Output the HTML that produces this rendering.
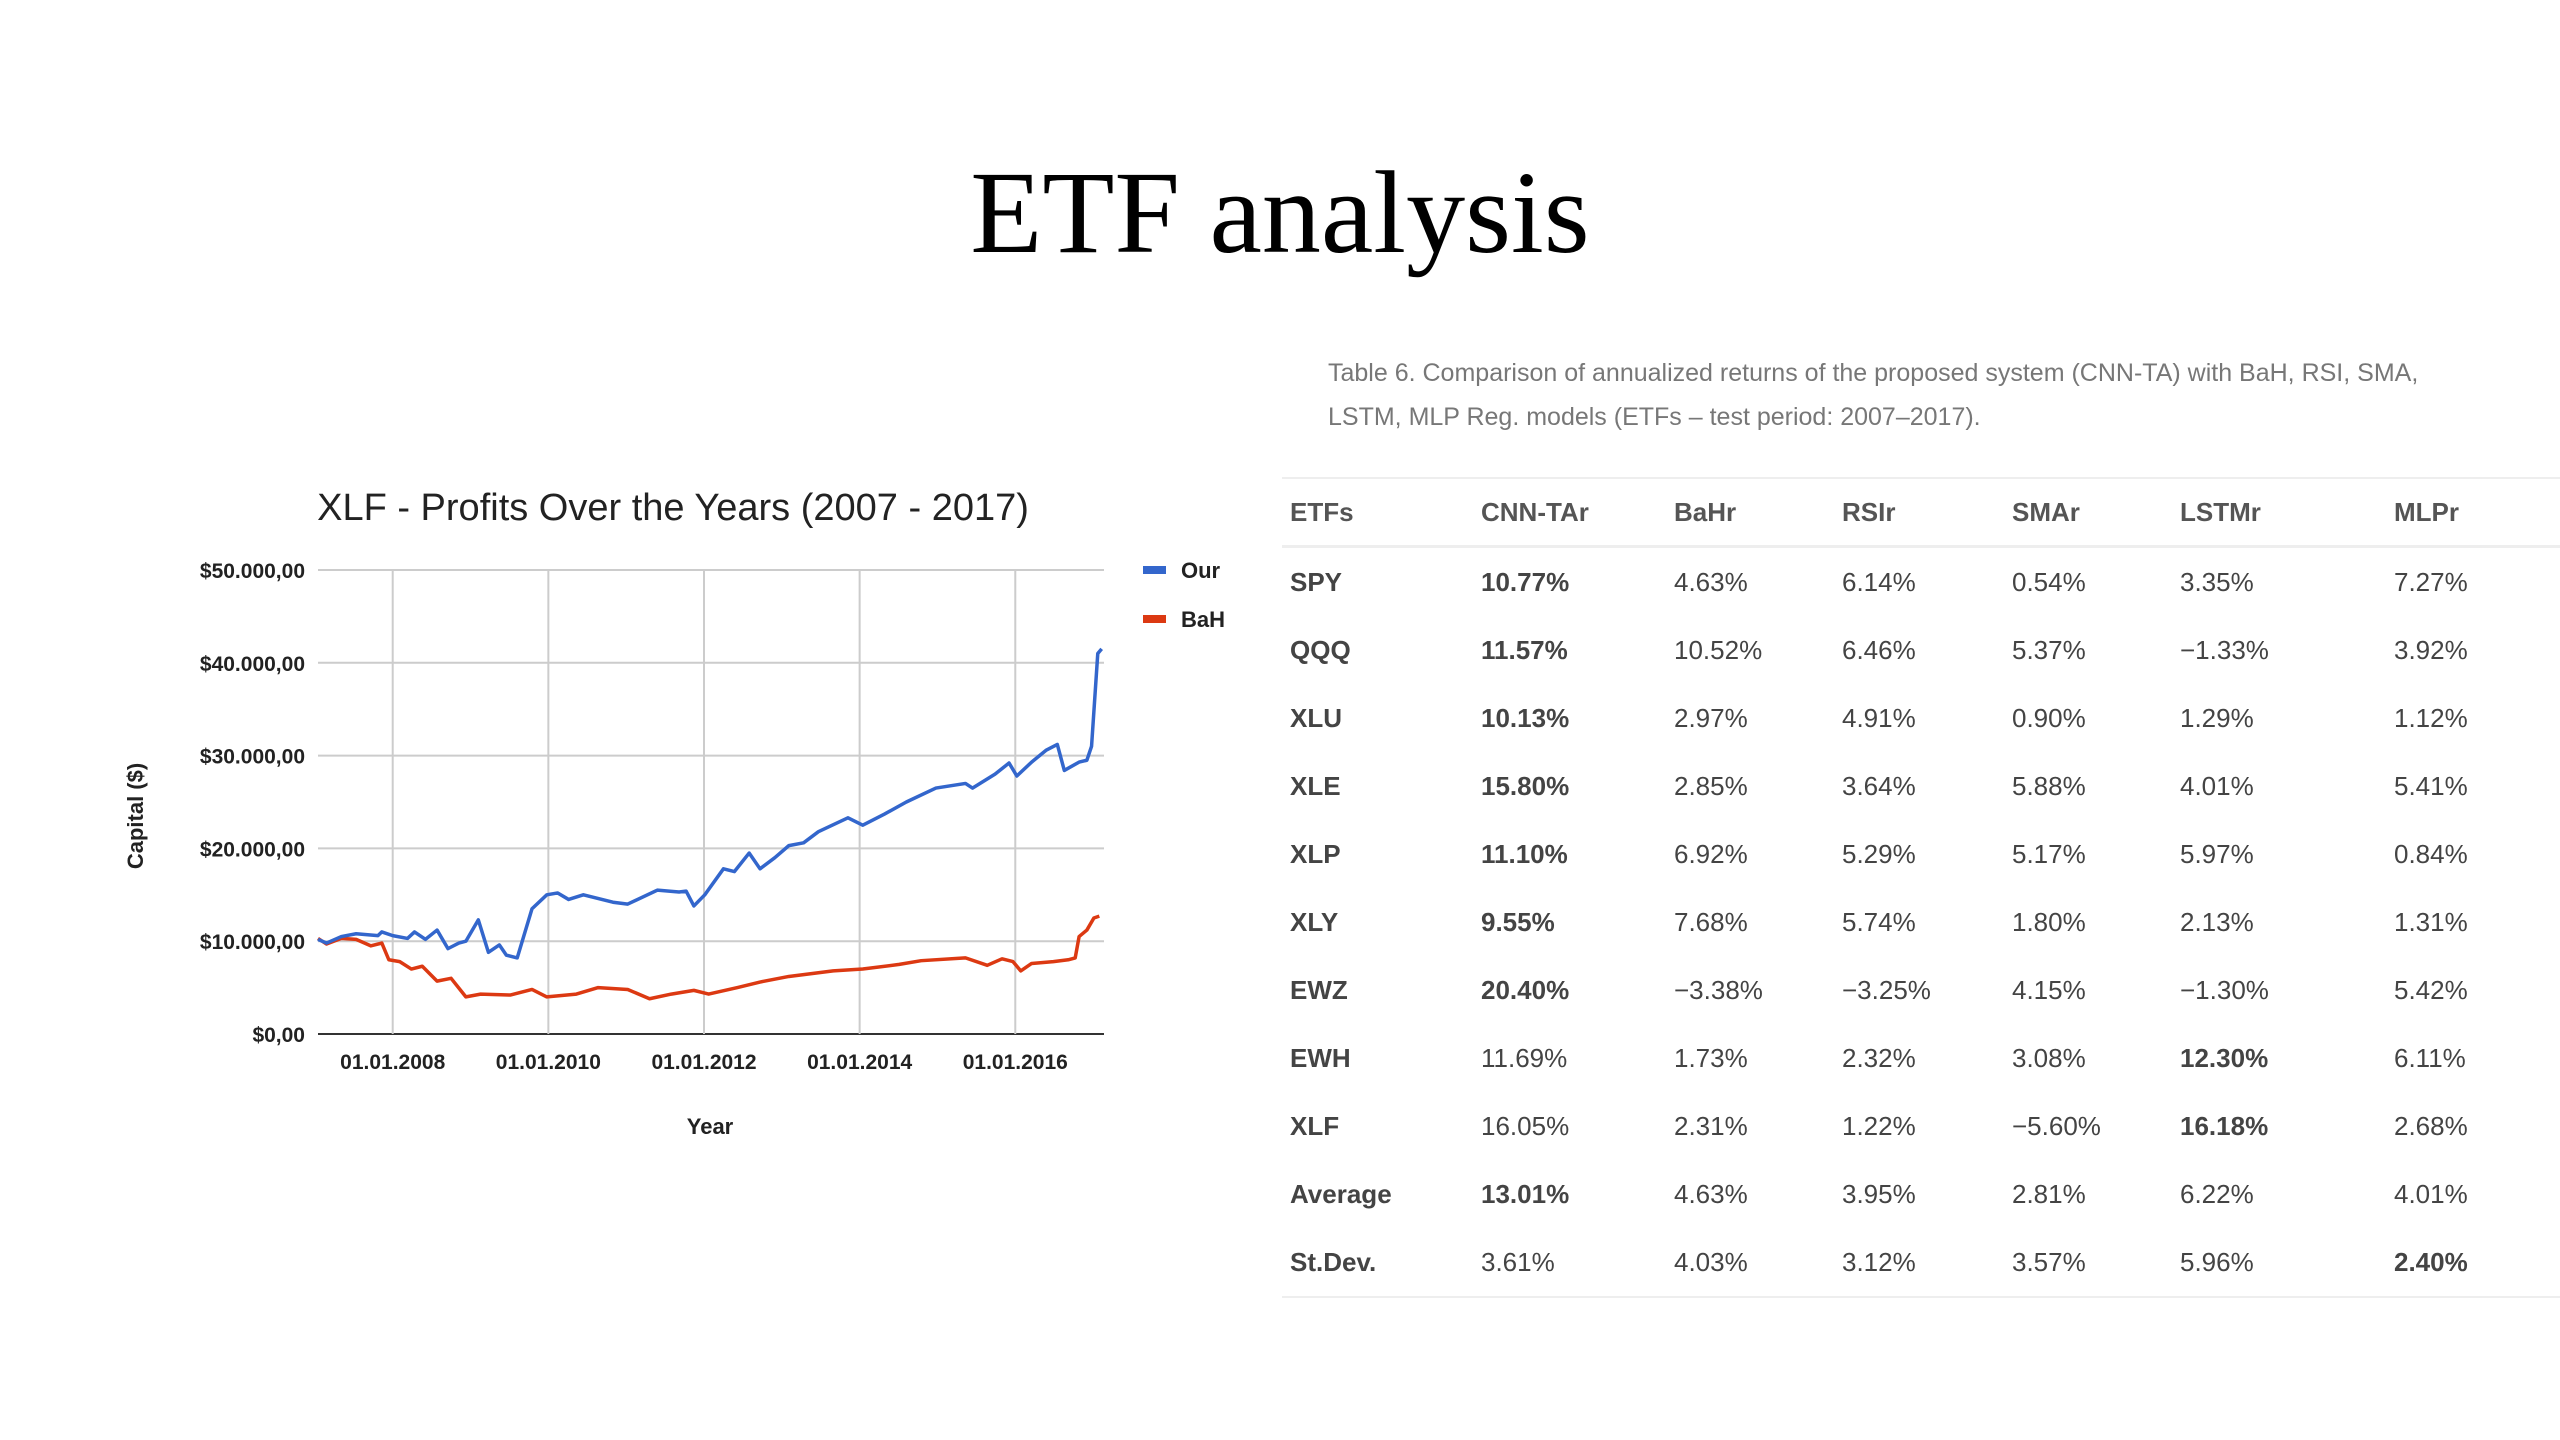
<!DOCTYPE html>
<html><head><meta charset="utf-8"><style>
body{margin:0;width:2560px;height:1440px;background:#fff;position:relative;overflow:hidden;font-family:"Liberation Sans",sans-serif}
#title{position:absolute;left:0;width:2560px;top:143px;text-align:center;font-family:"Liberation Serif",serif;font-size:118px;color:#000;line-height:140px}
#cap{position:absolute;left:1328px;top:351px;font-size:25px;color:#777;line-height:44px}
table{position:absolute;left:1282px;top:477px;width:1278px;border-collapse:collapse;border-top:2px solid #eee;border-bottom:2px solid #eee;color:#444;font-size:26px}
td,th{padding:0;height:68px;text-align:left;font-weight:normal}
th{height:66px;border-bottom:3px solid #eee;font-weight:bold;color:#555}
td:first-child,th:first-child{padding-left:8px;font-weight:bold}
b{font-weight:bold}
#chart{position:absolute;left:0;top:0}
</style></head><body>
<div id="title">ETF analysis</div>
<div id="cap">Table 6. Comparison of annualized returns of the proposed system (CNN-TA) with BaH, RSI, SMA,<br>LSTM, MLP Reg. models (ETFs – test period: 2007–2017).</div>
<table>
<colgroup><col style="width:199px"><col style="width:193px"><col style="width:168px"><col style="width:170px"><col style="width:168px"><col style="width:214px"><col></colgroup>
<tr><th>ETFs</th><th>CNN-TAr</th><th>BaHr</th><th>RSIr</th><th>SMAr</th><th>LSTMr</th><th>MLPr</th></tr>
<tr><td>SPY</td><td><b>10.77%</b></td><td>4.63%</td><td>6.14%</td><td>0.54%</td><td>3.35%</td><td>7.27%</td></tr>
<tr><td>QQQ</td><td><b>11.57%</b></td><td>10.52%</td><td>6.46%</td><td>5.37%</td><td>−1.33%</td><td>3.92%</td></tr>
<tr><td>XLU</td><td><b>10.13%</b></td><td>2.97%</td><td>4.91%</td><td>0.90%</td><td>1.29%</td><td>1.12%</td></tr>
<tr><td>XLE</td><td><b>15.80%</b></td><td>2.85%</td><td>3.64%</td><td>5.88%</td><td>4.01%</td><td>5.41%</td></tr>
<tr><td>XLP</td><td><b>11.10%</b></td><td>6.92%</td><td>5.29%</td><td>5.17%</td><td>5.97%</td><td>0.84%</td></tr>
<tr><td>XLY</td><td><b>9.55%</b></td><td>7.68%</td><td>5.74%</td><td>1.80%</td><td>2.13%</td><td>1.31%</td></tr>
<tr><td>EWZ</td><td><b>20.40%</b></td><td>−3.38%</td><td>−3.25%</td><td>4.15%</td><td>−1.30%</td><td>5.42%</td></tr>
<tr><td>EWH</td><td>11.69%</td><td>1.73%</td><td>2.32%</td><td>3.08%</td><td><b>12.30%</b></td><td>6.11%</td></tr>
<tr><td>XLF</td><td>16.05%</td><td>2.31%</td><td>1.22%</td><td>−5.60%</td><td><b>16.18%</b></td><td>2.68%</td></tr>
<tr><td>Average</td><td><b>13.01%</b></td><td>4.63%</td><td>3.95%</td><td>2.81%</td><td>6.22%</td><td>4.01%</td></tr>
<tr><td>St.Dev.</td><td>3.61%</td><td>4.03%</td><td>3.12%</td><td>3.57%</td><td>5.96%</td><td><b>2.40%</b></td></tr>
</table>
<svg id="chart" width="1260" height="1200"></svg>
<script>
const ourYears=[2007.04,2007.15,2007.34,2007.53,2007.81,2007.86,2008.0,2008.19,2008.28,2008.42,2008.57,2008.71,2008.85,2008.94,2009.10,2009.23,2009.37,2009.46,2009.60,2009.79,2009.98,2010.12,2010.26,2010.45,2010.83,2011.02,2011.40,2011.68,2011.77,2011.87,2012.01,2012.25,2012.39,2012.58,2012.72,2012.91,2013.09,2013.28,2013.47,2013.85,2014.04,2014.32,2014.60,2014.98,2015.36,2015.45,2015.74,2015.92,2016.02,2016.21,2016.40,2016.54,2016.63,2016.82,2016.92,2016.98,2017.06,2017.11];
const ourValues=[10.2,9.8,10.5,10.8,10.6,11.0,10.6,10.3,11.0,10.2,11.2,9.2,9.8,10.0,12.3,8.8,9.6,8.5,8.2,13.5,15.0,15.2,14.5,15.0,14.2,14.0,15.5,15.3,15.4,13.8,15.0,17.8,17.5,19.5,17.8,19.0,20.3,20.6,21.8,23.3,22.5,23.7,25.0,26.5,27.0,26.5,28.0,29.2,27.8,29.3,30.6,31.2,28.4,29.3,29.5,31.0,41.0,41.5];
const bahYears=[2007.04,2007.15,2007.34,2007.53,2007.72,2007.86,2007.95,2008.09,2008.24,2008.38,2008.57,2008.75,2008.94,2009.13,2009.51,2009.79,2009.98,2010.36,2010.64,2011.02,2011.30,2011.58,2011.87,2012.06,2012.43,2012.72,2013.09,2013.66,2014.04,2014.51,2014.79,2015.36,2015.64,2015.83,2015.97,2016.07,2016.21,2016.49,2016.68,2016.77,2016.82,2016.92,2017.01,2017.08];
const bahValues=[10.3,9.7,10.3,10.2,9.5,9.8,8.0,7.8,7.0,7.3,5.7,6.0,4.0,4.3,4.2,4.8,4.0,4.3,5.0,4.8,3.8,4.3,4.7,4.3,5.0,5.6,6.2,6.8,7.0,7.5,7.9,8.2,7.4,8.1,7.8,6.8,7.6,7.8,8.0,8.2,10.5,11.2,12.5,12.7];
const yTicks=[0,10,20,30,40,50];
const yTickLabels=["$0,00","$10.000,00","$20.000,00","$30.000,00","$40.000,00","$50.000,00"];
const xTicks=[2008,2010,2012,2014,2016];
const xTickLabels=["01.01.2008","01.01.2010","01.01.2012","01.01.2014","01.01.2016"];
const L=318,R=1104,T=570,B=1034,Y0=2007.04,Y1=2017.14;
const sx=v=>L+(v-Y0)/(Y1-Y0)*(R-L);
const sy=v=>B-v/50*(B-T);
const svg=document.getElementById('chart');const NS='http://www.w3.org/2000/svg';
function mk(t,a,txt){const e=document.createElementNS(NS,t);for(const k in a)e.setAttribute(k,a[k]);if(txt!=null)e.textContent=txt;svg.appendChild(e);return e;}
let e=mk('text',{x:673,y:520,'text-anchor':'middle','font-size':38,fill:'#222'},'XLF - Profits Over the Years  (2007 - 2017)');


yTicks.forEach((v,i)=>{
 const g=mk('line',{x1:L,x2:R,y1:sy(v),y2:sy(v),stroke:v===0?'#333':'#ccc','stroke-width':2});
 
 
 const t=mk('text',{x:305,y:sy(v)+8,'text-anchor':'end','font-size':21,'font-weight':'bold',fill:'#222'},yTickLabels[i]);
 
 
});
xTicks.forEach((v,i)=>{
 const g=mk('line',{x1:sx(v),x2:sx(v),y1:T,y2:B,stroke:'#ccc','stroke-width':2});
 
 
 const t=mk('text',{x:sx(v),y:1069,'text-anchor':'middle','font-size':21,'font-weight':'bold',fill:'#222'},xTickLabels[i]);
 
 
});
function line(xs,ys,c,n){const p=mk('polyline',{points:xs.map((x,i)=>sx(x)+','+sy(ys[i])).join(' '),fill:'none',stroke:c,'stroke-width':3.5,'stroke-linejoin':'round'});
 
 }
line(bahYears,bahValues,'#dc3912','bah-line');
line(ourYears,ourValues,'#3366cc','our-line');
e=mk('text',{x:710,y:1134,'text-anchor':'middle','font-size':22,'font-weight':'bold',fill:'#222'},'Year');


e=mk('text',{x:0,y:0,transform:'translate(143,816) rotate(-90)','text-anchor':'middle','font-size':22,'font-weight':'bold',fill:'#222'},'Capital ($)');


[['Our','#3366cc',570],['BaH','#dc3912',619]].forEach(d=>{
 const r=mk('rect',{x:1143,y:d[2]-4,width:23,height:8,fill:d[1]});
 
 
 const t=mk('text',{x:1181,y:d[2]+8,'font-size':22,'font-weight':'bold',fill:'#222'},d[0]);
 
 
});
</script>
</body></html>
